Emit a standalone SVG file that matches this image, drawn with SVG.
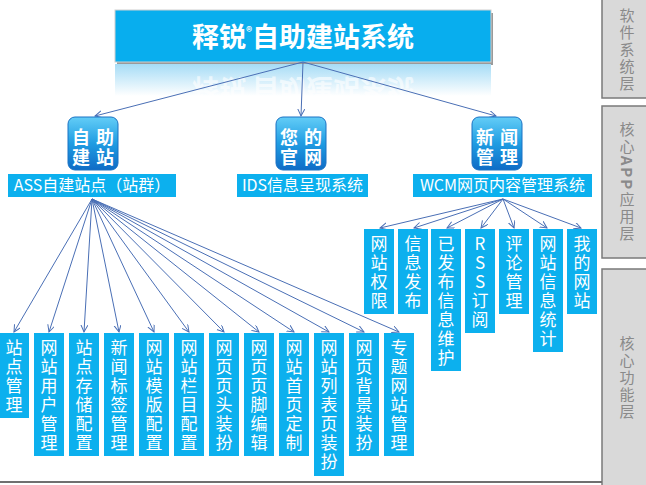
<svg xmlns="http://www.w3.org/2000/svg" width="646" height="485" viewBox="0 0 646 485">
<defs>
<style>
.box{fill:#0cb0ee;}
.vt{fill:#fff;font-family:"Noto Sans CJK SC","Noto Sans",sans-serif;font-size:17px;writing-mode:vertical-rl;text-orientation:upright;letter-spacing:2px;}
.lbl{fill:#fff;font-family:"Noto Sans CJK SC","Noto Sans",sans-serif;font-size:16px;text-anchor:middle;}
.ic{fill:#fff;font-family:"Noto Sans CJK SC",sans-serif;font-size:18px;font-weight:bold;}
.con{stroke:#4a6fb5;stroke-width:1;fill:none;marker-end:url(#arr);}
.pnl{fill:#d9d9d9;stroke:#7a7a7a;stroke-width:1.5;}
.pt{fill:#8a8a8a;font-family:"Noto Sans CJK SC",sans-serif;font-size:15px;text-anchor:middle;writing-mode:vertical-rl;letter-spacing:2px;}
.icon{fill:url(#ig);stroke:#1a72c4;stroke-width:1;}
</style>
<marker id="arr" markerUnits="userSpaceOnUse" markerWidth="9" markerHeight="9" refX="7" refY="3.5" orient="auto">
<path d="M0,0 L7,3.5 L0,7" fill="none" stroke="#4a6fb5" stroke-width="1"/>
</marker>
<linearGradient id="ig" x1="0" y1="0" x2="0" y2="1">
<stop offset="0" stop-color="#63cdf7"/>
<stop offset="0.5" stop-color="#1f9ce2"/>
<stop offset="1" stop-color="#0f6cc6"/>
</linearGradient>
<linearGradient id="rg" x1="0" y1="0" x2="0" y2="1">
<stop offset="0" stop-color="#a6dcf6"/>
<stop offset="1" stop-color="#ffffff"/>
</linearGradient>
</defs>
<rect width="646" height="485" fill="#fff"/>

<g id="layers">
<rect class="pnl" x="602" y="-2" width="50" height="100"/>
<rect class="pnl" x="602" y="106" width="50" height="152"/>
<rect class="pnl" x="602" y="269" width="50" height="220"/>
<text class="pt" x="627" y="50">软件系统层</text>
<text class="pt" x="627" y="182">核心<tspan font-weight="bold">APP</tspan>应用层</text>
<text class="pt" x="627" y="378">核心功能层</text>
<line x1="0" y1="482" x2="602" y2="482" stroke="#707070" stroke-width="2"/>
</g>

<g id="title">
<rect x="117" y="13" width="376" height="52" fill="#9a9a9a"/>
<rect x="115" y="10" width="376" height="52" fill="#08aeee" stroke="#cfcfcf" stroke-width="1"/>
<rect x="115" y="64" width="376" height="32" fill="url(#rg)"/>
<text x="303" y="47" fill="#fff" font-family="'Noto Sans CJK SC',sans-serif" font-size="27" font-weight="bold" text-anchor="middle">释锐<tspan font-size="12" dy="-11">®</tspan><tspan dy="11">自助建站系统</tspan></text>
<text transform="matrix(1,0,0,-1,0,126)" x="303" y="47" fill="#fff" opacity="0.6" font-family="'Noto Sans CJK SC',sans-serif" font-size="27" font-weight="bold" text-anchor="middle">释锐<tspan font-size="12" dy="-11">®</tspan><tspan dy="11">自助建站系统</tspan></text>
</g>

<g id="connectors">
<line class="con" x1="303" y1="62" x2="95" y2="116"/>
<line class="con" x1="303" y1="62" x2="301" y2="116"/>
<line class="con" x1="303" y1="62" x2="496" y2="116"/>
<line class="con" x1="92" y1="199" x2="14" y2="332"/>
<line class="con" x1="92" y1="199" x2="49" y2="332"/>
<line class="con" x1="92" y1="199" x2="84" y2="332"/>
<line class="con" x1="92" y1="199" x2="119" y2="332"/>
<line class="con" x1="92" y1="199" x2="154" y2="332"/>
<line class="con" x1="92" y1="199" x2="189" y2="332"/>
<line class="con" x1="92" y1="199" x2="224" y2="332"/>
<line class="con" x1="92" y1="199" x2="259" y2="332"/>
<line class="con" x1="92" y1="199" x2="294" y2="332"/>
<line class="con" x1="92" y1="199" x2="329" y2="332"/>
<line class="con" x1="92" y1="199" x2="364" y2="332"/>
<line class="con" x1="92" y1="199" x2="399" y2="332"/>
<line class="con" x1="503" y1="199" x2="380" y2="228"/>
<line class="con" x1="503" y1="199" x2="414" y2="228"/>
<line class="con" x1="503" y1="199" x2="447" y2="228"/>
<line class="con" x1="503" y1="199" x2="481" y2="228"/>
<line class="con" x1="503" y1="199" x2="514" y2="228"/>
<line class="con" x1="503" y1="199" x2="547" y2="228"/>
<line class="con" x1="503" y1="199" x2="581" y2="228"/>
</g>

<g id="icon-ass">
<rect class="icon" x="68" y="117" width="50" height="53" rx="7"/>
<text class="ic" x="72 96 72 96" y="144 144 164 164">自助建站</text>
</g>
<g id="icon-ids">
<rect class="icon" x="276" y="117" width="50" height="53" rx="7"/>
<text class="ic" x="280 304 280 304" y="144 144 164 164">您的官网</text>
</g>
<g id="icon-wcm">
<rect class="icon" x="472" y="117" width="50" height="53" rx="7"/>
<text class="ic" x="476 500 476 500" y="144 144 164 164">新闻管理</text>
</g>

<g id="label-ass"><rect class="box" x="8" y="174" width="168" height="23"/><text class="lbl" x="92" y="191">ASS自建站点（站群）</text></g>
<g id="label-ids"><rect class="box" x="237" y="174" width="131" height="23"/><text class="lbl" x="302.5" y="191">IDS信息呈现系统</text></g>
<g id="label-wcm"><rect class="box" x="413" y="174" width="179" height="23"/><text class="lbl" x="502.5" y="191">WCM网页内容管理系统</text></g>

<g id="w1"><rect class="box" x="364" y="229" width="30" height="85"/><text class="vt" x="379" y="235">网站权限</text></g>
<g id="w2"><rect class="box" x="398" y="229" width="30" height="85"/><text class="vt" x="413" y="235">信息发布</text></g>
<g id="w3"><rect class="box" x="431" y="229" width="30" height="142"/><text class="vt" x="446" y="235">已发布信息维护</text></g>
<g id="w4"><rect class="box" x="465" y="229" width="30" height="104"/><text class="vt" x="480" y="235">RSS订阅</text></g>
<g id="w5"><rect class="box" x="499" y="229" width="30" height="85"/><text class="vt" x="514" y="235">评论管理</text></g>
<g id="w6"><rect class="box" x="533" y="229" width="30" height="123"/><text class="vt" x="548" y="235">网站信息统计</text></g>
<g id="w7"><rect class="box" x="567" y="229" width="30" height="85"/><text class="vt" x="582" y="235">我的网站</text></g>

<g id="a1"><rect class="box" x="-1" y="333" width="30" height="85"/><text class="vt" x="14" y="339">站点管理</text></g>
<g id="a2"><rect class="box" x="34" y="333" width="30" height="123"/><text class="vt" x="49" y="339">网站用户管理</text></g>
<g id="a3"><rect class="box" x="69" y="333" width="30" height="123"/><text class="vt" x="84" y="339">站点存储配置</text></g>
<g id="a4"><rect class="box" x="104" y="333" width="30" height="123"/><text class="vt" x="119" y="339">新闻标签管理</text></g>
<g id="a5"><rect class="box" x="139" y="333" width="30" height="123"/><text class="vt" x="154" y="339">网站模版配置</text></g>
<g id="a6"><rect class="box" x="174" y="333" width="30" height="123"/><text class="vt" x="189" y="339">网站栏目配置</text></g>
<g id="a7"><rect class="box" x="209" y="333" width="30" height="123"/><text class="vt" x="224" y="339">网页页头装扮</text></g>
<g id="a8"><rect class="box" x="244" y="333" width="30" height="123"/><text class="vt" x="259" y="339">网页页脚编辑</text></g>
<g id="a9"><rect class="box" x="279" y="333" width="30" height="123"/><text class="vt" x="294" y="339">网站首页定制</text></g>
<g id="a10"><rect class="box" x="314" y="333" width="30" height="143"/><text class="vt" x="329" y="339">网站列表页装扮</text></g>
<g id="a11"><rect class="box" x="349" y="333" width="30" height="123"/><text class="vt" x="364" y="339">网页背景装扮</text></g>
<g id="a12"><rect class="box" x="384" y="333" width="30" height="123"/><text class="vt" x="399" y="339">专题网站管理</text></g>
</svg>
